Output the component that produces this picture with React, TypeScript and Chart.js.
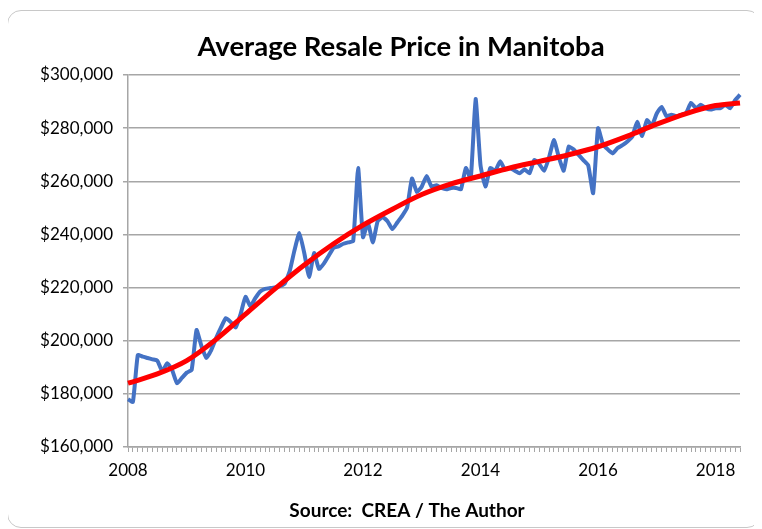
import React, { useEffect, useRef } from "react";
import { Chart, registerables } from "chart.js";

Chart.register(...registerables);

// Monthly labels Jan 2008 .. Jun 2018 (126 months)
const startYear = 2008;
const monthCount = 126;
const monthLabels: string[] = [];
for (let i = 0; i < monthCount; i++) {
  const y = startYear + Math.floor(i / 12);
  const m = (i % 12) + 1;
  monthLabels.push(`${y}-${m < 10 ? "0" + m : m}`);
}

// Average resale price (monthly)
const avgPrice2008to2010 = [
  178000, 177000, 194600, 194000, 193500, 193000, 192500, 188500, 191500, 189000, 184000, 186000,
  188000, 189000, 204000, 198000, 193500, 196500, 201000, 205000, 208500, 207000, 205000, 210000,
];
const avgPrice2010to2012 = [
  216500, 213000, 216000, 218500, 219500, 219800, 220000, 220500, 221500, 226000, 234000, 240500,
  233000, 224000, 233000, 227000, 229000, 232000, 235000, 235500, 236500, 237000, 237500, 265000,
];
const avgPrice2012to2014 = [
  239000, 244500, 237000, 245000, 246500, 245000, 242000, 244500, 247000, 250000, 261000, 256000,
  258000, 262000, 258000, 258500, 257500, 257000, 257500, 257500, 257000, 265000, 261000, 291000,
];
const avgPrice2014to2016 = [
  266000, 258000, 265000, 264000, 267500, 264500, 265000, 264000, 263000, 264500, 263000, 268000,
  266500, 264000, 269000, 275500, 269000, 264000, 273000, 272000, 270000, 268000, 266000, 255500,
];
const avgPrice2016to2018 = [
  280000, 274000, 272000, 270500, 272500, 273600, 275000, 276800, 282400, 277000, 283000, 281000,
  285500, 288000, 284500, 285000, 284500, 285000, 285700, 289500, 287500, 288800, 287500, 287000,
];
const avgPrice2018 = [287500, 287500, 288800, 287500, 290500, 292600];

const avgPrice = [
  ...avgPrice2008to2010,
  ...avgPrice2010to2012,
  ...avgPrice2012to2014,
  ...avgPrice2014to2016,
  ...avgPrice2016to2018,
  ...avgPrice2018,
];

// Trend line read at half-year points
const trendMonths = [0, 6, 12, 18, 24, 30, 36, 42, 48, 54, 60, 66, 72, 78, 84, 90, 96, 102, 108, 114, 120, 125];
const trendValues = [
  184000, 187500, 192500, 200500, 210000, 219500, 228500, 236500, 243500, 249500, 255000,
  259000, 262000, 265000, 267500, 270000, 273000, 277000, 281500, 285500, 288500, 289500,
];

const trendSeries: (number | null)[] = monthLabels.map(() => null);
trendMonths.forEach((m, k) => {
  trendSeries[m] = trendValues[k];
});

const yTicks = { min: 160000, max: 300000, step: 20000 };
const xLabelEveryMonths = 24;

const chartTitle = "Average Resale Price in Manitoba";
const sourceText = "Source:  CREA / The Author";

const FONT = "Lato, 'Open Sans', sans-serif";
const GRID = "#a6a6a6";

const textPlugin = {
  id: "titleAndSource",
  afterDraw(chart: any) {
    const ctx = chart.ctx;
    ctx.save();
    ctx.fillStyle = "#000";
    ctx.textAlign = "center";
    ctx.textBaseline = "middle";
    ctx.font = `bold 27.5px ${FONT}`;
    ctx.fillText(chartTitle, 393, 36);
    ctx.font = `bold 19px ${FONT}`;
    ctx.fillText(sourceText, 399, 500);
    ctx.restore();
  },
};

export default function App() {
  const ref = useRef<HTMLCanvasElement | null>(null);

  useEffect(() => {
    if (!ref.current) return;
    const chart = new Chart(ref.current, {
      type: "line",
      data: {
        labels: monthLabels,
        datasets: [
          {
            label: "Average Resale Price",
            data: avgPrice,
            borderColor: "#4472C4",
            backgroundColor: "#4472C4",
            borderWidth: 4,
            pointRadius: 0,
            tension: 0.15,
            order: 2,
          },
          {
            label: "Trend",
            data: trendSeries,
            borderColor: "#FF0000",
            backgroundColor: "#FF0000",
            borderWidth: 5,
            pointRadius: 0,
            spanGaps: true,
            cubicInterpolationMode: "monotone",
            order: 1,
          },
        ],
      },
      options: {
        animation: false,
        responsive: false,
        maintainAspectRatio: false,
        layout: { padding: { left: 0, right: 20, top: 64, bottom: 39 } },
        plugins: {
          legend: { display: false },
          tooltip: { enabled: false },
          title: { display: false },
        },
        scales: {
          x: {
            type: "category",
            offset: false,
            afterFit: (scale: any) => {
              scale.height = 41;
            },
            grid: {
              display: true,
              drawOnChartArea: false,
              drawTicks: true,
              tickLength: 5,
              color: GRID,
              lineWidth: 1,
            },
            border: { display: true, color: GRID, width: 1.5 },
            ticks: {
              autoSkip: false,
              maxRotation: 0,
              minRotation: 0,
              padding: 8,
              color: "#000",
              font: { family: FONT, size: 17 },
              callback: (_v: any, idx: number) =>
                idx % xLabelEveryMonths === 0 ? String(startYear + idx / 12) : "",
            },
          },
          y: {
            min: yTicks.min,
            max: yTicks.max,
            afterFit: (scale: any) => {
              scale.width = 120;
            },
            grid: {
              color: GRID,
              lineWidth: 1.5,
              drawTicks: true,
              tickLength: 5,
            },
            border: { display: true, color: GRID, width: 1.5 },
            ticks: {
              stepSize: yTicks.step,
              padding: 10,
              color: "#000",
              font: { family: FONT, size: 17 },
              callback: (v: any) => "$" + Number(v).toLocaleString("en-US"),
            },
          },
        },
      },
      plugins: [textPlugin],
    });
    return () => chart.destroy();
  }, []);

  return (
    <div
      style={{
        position: "relative",
        width: 752,
        height: 516,
        border: "1px solid #c8c8c8",
        borderRadius: 14,
        marginTop: 2,
        marginLeft: -1,
        background: "#fff",
      }}
    >
      <canvas ref={ref} width={752} height={516} style={{ display: "block", width: 752, height: 516 }} />
    </div>
  );
}
